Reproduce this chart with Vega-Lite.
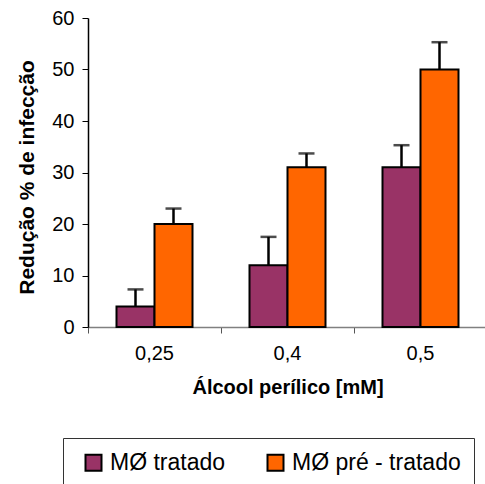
{
  "$schema": "https://vega.github.io/schema/vega-lite/v6.json",
  "autosize": {"type": "none"},
  "padding": {"left": 88, "top": 18, "right": 0, "bottom": 157},
  "width": 399,
  "height": 309,
  "background": "white",
  "config": {
    "view": {"stroke": null},
    "font": "Liberation Sans"
  },
  "data": {
    "values": [
      {"conc": "0,25", "grupo": "MØ tratado", "valor": 4, "erro": 7.3},
      {"conc": "0,25", "grupo": "MØ pré - tratado", "valor": 20, "erro": 23},
      {"conc": "0,4", "grupo": "MØ tratado", "valor": 12, "erro": 17.5},
      {"conc": "0,4", "grupo": "MØ pré - tratado", "valor": 31, "erro": 33.7},
      {"conc": "0,5", "grupo": "MØ tratado", "valor": 31, "erro": 35.3},
      {"conc": "0,5", "grupo": "MØ pré - tratado", "valor": 50, "erro": 55.3}
    ]
  },
  "encoding": {
    "x": {
      "field": "conc",
      "type": "nominal",
      "sort": ["0,25", "0,4", "0,5"],
      "scale": {"paddingInner": 0, "paddingOuter": 0},
      "axis": {
        "title": "Álcool perílico [mM]",
        "titleFont": "Liberation Sans",
        "titleFontSize": 20,
        "titleFontWeight": "bold",
        "titleColor": "black",
        "titleBaseline": "middle",
        "titleY": 60,
        "labelAngle": 0,
        "labelFontSize": 20,
        "labelColor": "black",
        "labelPadding": 10,
        "bandPosition": 0,
        "domainColor": "#808080",
        "domainWidth": 1.5,
        "tickColor": "#555555",
        "tickWidth": 1,
        "tickSize": 6,
        "grid": false
      }
    },
    "xOffset": {
      "field": "grupo",
      "type": "nominal",
      "sort": ["MØ tratado", "MØ pré - tratado"],
      "scale": {"paddingInner": 0, "paddingOuter": 0.75}
    }
  },
  "layer": [
    {
      "mark": {"type": "bar", "stroke": "black", "strokeWidth": 2},
      "encoding": {
        "y": {
          "field": "valor",
          "type": "quantitative",
          "scale": {"domain": [0, 60], "nice": false},
          "axis": {
            "title": "Redução % de infecção",
            "titleFont": "Liberation Sans",
            "titleFontSize": 21,
            "titleFontWeight": "bold",
            "titleColor": "black",
            "titleBaseline": "middle",
            "titleX": -61,
            "titleY": 159,
            "values": [0, 10, 20, 30, 40, 50, 60],
            "labelFontSize": 20,
            "labelColor": "black",
            "labelPadding": 8,
            "domainColor": "black",
            "domainWidth": 1.5,
            "tickColor": "black",
            "tickSize": 6,
            "grid": false
          }
        },
        "color": {
          "field": "grupo",
          "type": "nominal",
          "sort": ["MØ tratado", "MØ pré - tratado"],
          "scale": {"range": ["#993366", "#FF6600"]},
          "legend": {
            "title": null,
            "orient": "none",
            "direction": "horizontal",
            "legendX": -25,
            "legendY": 420,
            "padding": 13,
            "strokeColor": "#333333",
            "symbolType": "square",
            "symbolSize": 256,
            "symbolOffset": 6,
            "symbolStrokeColor": "black",
            "symbolStrokeWidth": 2,
            "labelFont": "Liberation Sans",
            "labelFontSize": 23,
            "labelColor": "black",
            "labelOffset": 5,
            "columnPadding": 32,
            "labelLimit": 400
          }
        }
      }
    },
    {
      "mark": {"type": "rule", "color": "black", "strokeWidth": 2.5},
      "encoding": {
        "y": {"field": "valor", "type": "quantitative"},
        "y2": {"field": "erro"}
      }
    },
    {
      "mark": {"type": "tick", "color": "black", "thickness": 2.5, "size": 16, "orient": "horizontal"},
      "encoding": {
        "y": {"field": "erro", "type": "quantitative"}
      }
    }
  ]
}
